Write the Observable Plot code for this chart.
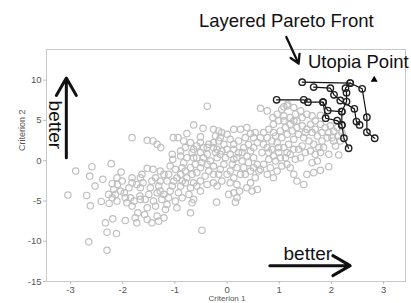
<!DOCTYPE html>
<html><head><meta charset="utf-8">
<script src="https://cdn.jsdelivr.net/npm/d3@7"></script>
<script src="https://cdn.jsdelivr.net/npm/@observablehq/plot@0.6"></script>
<style>html,body{margin:0;padding:0;background:#fff;overflow:hidden}</style>
</head><body><div id="chart"></div>
<script>
const xTicks = [-3, -2, -1, 0, 1, 2, 3];
const yTicks = [-15, -10, -5, 0, 5, 10];

// Gray cloud of candidate solutions [Criterion 1, Criterion 2]
const cloud = [
[-2.90,-1.29],[-3.05,-4.27],[-2.59,-0.75],[-2.63,-1.91],[-2.53,-3.15],[-2.69,-4.32],[-2.62,-5.60],[-2.65,-10.08],[-2.30,-11.12],[-2.30,-8.88],[-2.12,-9.05],[-2.33,-7.72],[-2.19,-7.22],[-2.41,-5.06],[-2.26,-5.31],[-2.20,-4.61],[-2.11,-5.02],[-2.22,-0.37],[-2.03,-1.41],[-1.95,-7.43],[-1.82,2.86],[-1.53,2.53],[-1.42,2.45],[-1.34,2.03],[-1.27,1.62],[-1.92,-5.23],
[-2.38,-2.32],[-2.20,-2.86],[-2.27,-4.19],[-2.17,-3.57],[-2.10,-2.95],[-2.01,-2.53],[-1.97,-3.98],[-1.88,-3.36],[-1.85,-4.61],[-1.82,-5.64],[-1.76,-7.10],[-1.73,-7.72],[-1.71,-6.47],[-1.78,-5.02],[-1.67,-4.40],[-1.66,-3.36],[-1.61,-2.74],[-1.63,-1.70],[-1.57,-4.81],[-1.53,-5.85],[-1.50,-4.19],[-1.47,-3.36],[-1.44,-2.53],[-1.41,-5.02],[-1.37,-5.64],[-1.34,-3.98],[-1.31,-3.15],[-1.28,-2.53],[-1.25,-4.81],[-1.21,-4.19],[-1.18,-6.06],[-1.58,-6.68],[-1.53,-7.30],[-1.44,-7.72],[-1.34,-6.89],[-1.31,-7.51],[-1.21,-7.10],[-1.15,-5.44],[-1.12,-4.61],[-1.09,-3.78],[-1.05,-3.15],[-1.02,-2.53],[-0.99,-5.02],[-0.96,-5.85],[-0.93,-3.98],[-0.89,-3.15],[-0.86,-4.61],[-1.21,-1.70],[-1.15,-2.53],[-1.42,-1.08],[-1.53,-0.95],[-1.66,-2.12],[-1.73,-2.95],[-1.82,-2.74],[-1.66,-4.81],[-1.82,-2.12],[-2.04,-3.78],[-1.95,-4.61],[-2.14,-4.19],[-2.11,-2.12],
[-1.05,0.79],[-1.04,0.17],[-0.89,0.58],[-0.83,-0.25],[-0.77,0.37],[-0.67,1.00],[-0.64,0.37],[-0.61,-0.46],[-0.70,-0.87],[-0.80,-1.29],[-0.89,-1.70],[-0.96,-2.12],[-0.77,-2.12],[-0.67,-1.70],[-0.58,-1.49],[-0.51,-0.87],[-0.48,-0.25],[-0.45,0.37],[-0.38,0.79],[-0.32,-0.04],[-0.26,-0.66],[-0.35,-1.29],[-0.42,-1.91],[-0.51,-2.53],[-0.58,-3.15],[-0.64,-2.74],[-0.70,-3.36],[-0.73,-4.19],[-0.51,-3.78],[-0.38,-2.95],[-0.26,-2.74],[-0.19,-3.15],[-0.16,-1.70],[-0.13,-1.08],[-0.06,-0.46],[-0.03,0.37],[-0.13,0.79],[-0.22,1.00],[-0.45,1.62],[-0.35,2.03],[-0.26,2.24],[-0.16,2.45],[-0.06,2.03],[0.00,1.41],[0.06,0.79],[0.13,0.17],[0.10,-0.46],[0.06,-1.29],[0.13,-2.12],[0.19,-2.95],[0.06,-2.74],[0.26,-1.70],[0.32,-0.87],[0.29,-0.04],[0.38,0.58],[0.45,1.20],[0.51,0.37],[0.58,-0.46],[0.61,-1.29],[0.54,-2.12],[0.45,-2.74],[0.38,-3.36],[0.48,-3.78],[0.58,-3.57],[0.24,-3.78],[0.13,-3.98],[0.03,-4.19],[-0.20,-5.15],[0.19,-4.61],[0.16,-5.15],[-0.48,-8.63],[-0.70,-6.47],[-0.67,-5.23],[-0.64,-4.81],
[-0.38,6.76],[-0.64,4.44],[-0.46,4.02],[-0.83,2.45],[-0.77,3.36],[-0.51,2.95],[-0.26,3.90],[-0.16,3.69],[-0.10,3.49],[0.00,3.28],[0.13,3.90],[0.26,3.90],[0.38,4.11],[0.45,3.36],[0.51,2.86],[0.35,2.86],[0.22,2.45],[0.13,2.03],[0.06,2.66],[-0.13,2.86],[-0.22,3.07],[-0.51,2.24],[-0.58,1.83],[-0.64,1.41],[-0.70,2.24],[-0.80,1.62],[-0.89,1.20],[-1.03,2.86],[-0.94,2.86],
[0.64,6.51],[0.77,6.18],[0.88,5.35],[0.96,5.77],[1.05,6.39],[1.15,6.80],[1.28,6.60],[1.31,5.77],[1.21,5.35],[1.09,5.56],[0.99,4.94],[0.89,4.52],[0.80,3.90],[0.70,3.49],[0.77,2.86],[0.86,2.45],[0.93,3.07],[1.02,3.69],[1.12,4.11],[1.21,4.52],[1.34,4.94],[1.44,5.35],[1.53,5.77],[1.63,5.56],[1.69,4.94],[1.79,4.52],[1.88,4.11],[1.95,3.49],[2.04,3.69],[2.11,4.11],[1.98,4.32],[1.82,3.49],[1.73,3.07],[1.63,3.49],[1.53,3.90],[1.44,4.32],[1.37,3.28],[1.28,2.66],[1.18,2.03],[1.09,1.62],[0.99,1.00],[0.89,0.58],[0.80,0.17],[0.70,-0.46],[0.64,-1.08],[0.67,1.00],[0.77,1.62],[0.86,1.41],[0.96,2.24],[1.05,2.86],[1.15,3.28],[1.25,3.69],[1.34,4.11],[1.47,2.86],[1.57,2.45],[1.66,2.03],[1.76,1.62],[1.82,2.45],[1.92,2.86],[2.01,2.86],[2.14,3.07],[1.85,1.62],[1.95,0.79],[2.14,0.71],[1.95,-0.75],[1.79,-1.20],[1.66,-1.49],[1.53,-1.70],[1.47,-2.95],[1.34,-2.53],[1.28,-1.70],[1.21,-0.87],[1.15,-0.46],[1.05,-0.66],[0.96,-1.29],[0.89,-2.12],[0.77,-1.70],[0.83,-0.87],[1.12,0.37],[1.21,0.79],[1.31,0.17],[1.41,0.37],[1.50,1.00],[1.60,1.20],[1.44,1.83],[1.37,1.41],[1.28,1.41],[1.15,1.00],[1.69,0.79],[1.73,-0.04],[1.63,-0.25],[1.09,6.68],[1.16,7.01],[1.79,5.64],
[-0.38,1.62],[-0.19,1.41],[-0.10,1.20],[0.13,1.41],[0.22,1.00],[0.32,1.62],[0.41,2.03],[0.51,1.62],[0.58,2.24],[0.64,2.86],[0.54,3.49],[0.29,1.00],[0.19,0.37],[0.41,-0.25],[0.51,-0.87],[0.35,-1.70],[0.45,-1.29],[0.19,-0.87],[0.00,-1.70],[-0.10,-2.53],[-0.26,-1.70],[-0.19,0.37],[-0.38,-0.46],[-0.58,0.37],[-0.51,1.00],[-0.26,1.62],[0.70,2.03],[0.80,1.00],[0.93,-0.04],[1.02,0.37],[0.99,1.62],[0.89,3.49],[1.09,4.94],[1.60,4.52],[1.69,3.90],[1.79,1.00],[2.04,2.45],[1.28,4.94],[1.41,6.18],[1.50,3.49],
[-1.09,-0.66],[-0.99,-1.08],[-0.86,-0.87],[-0.80,-2.74],[-1.12,-1.70],[-1.28,-1.29],[-1.37,-2.12],[-1.28,-3.78],[-0.86,-2.53],[2.17,2.45],[2.08,1.83],[2.20,3.49]
];

// Layered Pareto front polylines
const layerA = [[1.44,9.75],[2.36,9.63],[2.59,8.92],[2.68,5.39],[2.68,3.53],[2.83,2.78]];
const layerB = [[2.36,9.63],[2.27,9.00],[2.29,8.42],[2.29,7.34],[2.20,6.10],[2.20,4.44],[2.24,2.78],[2.33,1.54]];
const layerC = [[1.66,9.13],[1.98,9.00],[2.05,8.17],[2.17,7.47],[2.44,6.43],[2.48,4.85],[2.54,4.44]];
const layerD = [[0.95,7.55],[1.47,7.55],[1.55,7.26],[1.84,7.26],[1.93,6.22],[2.20,6.10]];
const layerE = [[1.84,7.26],[1.89,5.27],[2.11,4.98],[2.20,4.44]];
const utopia = [[2.82,10.04]];

const layers = [layerA, layerB, layerC, layerD, layerE];
const frontRows = layers.flatMap((l, i) => l.map(([x, y]) => ({x, y, layer: i})));

const font = "'Liberation Sans', Arial, sans-serif";

const chart = Plot.plot({
  width: 411, height: 303,
  marginLeft: 46, marginRight: 6, marginTop: 49, marginBottom: 22,
  x: {domain: [-3.46, 3.42]},
  y: {domain: [-15, 13.8]},
  style: {fontFamily: font, fontSize: "9.5px", color: "#555", background: "#fff", overflow: "visible"},
  marks: [
    Plot.frame({stroke: "#c8c8c8"}),
    Plot.axisX({ticks: xTicks, tickSize: 3, tickPadding: 2, stroke: "#bbb", fill: "#555", label: null, tickFormat: d => String(d)}),
    Plot.axisY({ticks: yTicks, tickSize: 3, tickPadding: 2, stroke: "#bbb", fill: "#555", label: null, tickFormat: d => String(d)}),
    Plot.text(["Criterion 2"], {frameAnchor: "left", y: [1.2], dx: -24, rotate: -90, fill: "#555", fontSize: 9}),
    Plot.text(["Criterion 1"], {x: [0], frameAnchor: "bottom", dy: 19.5, lineAnchor: "bottom", fill: "#555", fontSize: 8}),
    Plot.dot(cloud, {x: d => d[0], y: d => d[1], r: 3.2, stroke: "#bfbfbf", strokeWidth: 1.2, fill: "none"}),
    Plot.line(frontRows, {x: "x", y: "y", z: "layer", stroke: "#111", strokeWidth: 1.2}),
    Plot.dot(frontRows, {x: "x", y: "y", r: 3.2, stroke: "#222", strokeWidth: 1.4, fill: "none"}),
    Plot.dot(utopia, {x: d => d[0], y: d => d[1], symbol: "triangle", r: 2.6, fill: "#000"}),
    Plot.text(["Layered Pareto Front"], {x: [1.136], y: [16.55], lineAnchor: "bottom", textAnchor: "middle", fontSize: 18.5, fill: "#111"}),
    Plot.text(["Utopia Point"], {x: [2.515], y: [11.46], lineAnchor: "bottom", textAnchor: "middle", fontSize: 18.5, fill: "#111"}),
    Plot.text(["better"], {x: [1.548], y: [-12.27], lineAnchor: "bottom", textAnchor: "middle", fontSize: 19, fill: "#111"}),
    Plot.text(["better"], {x: [-3.29], y: [4.44], rotate: 90, lineAnchor: "middle", textAnchor: "middle", fontSize: 19, fill: "#111"}),
    Plot.arrow([0], {x1: [1.136], y1: [15.35], x2: [1.372], y2: [12.04], stroke: "#111", strokeWidth: 2.3, headLength: 9, inset: 0}),
    Plot.arrow([0], {x1: [-3.08], y1: [0.37], x2: [-3.08], y2: [10.25], stroke: "#111", strokeWidth: 3, headLength: 10, inset: 0}),
    Plot.arrow([0], {x1: [0.82], y1: [-13.03], x2: [2.36], y2: [-13.03], stroke: "#111", strokeWidth: 3, headLength: 10, inset: 0})
  ]
});
document.getElementById("chart").appendChild(chart);
</script>
</body></html>
